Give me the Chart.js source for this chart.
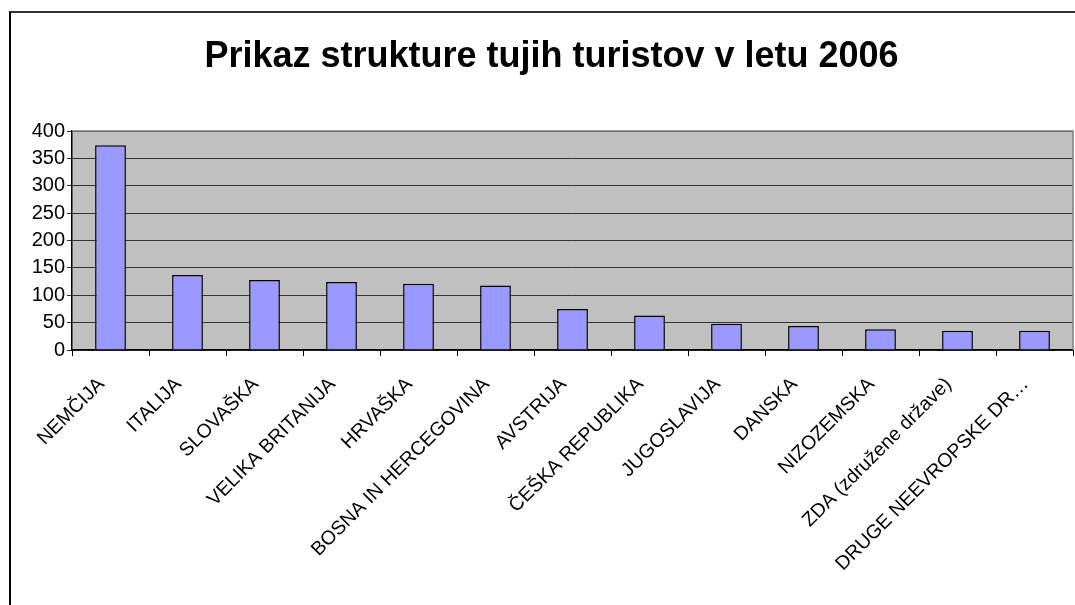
<!DOCTYPE html>
<html>
<head>
<meta charset="utf-8">
<script src="https://cdn.jsdelivr.net/npm/chart.js@4"></script>
<style>
  body { margin: 0; background: #fff; overflow: hidden; }
  #frame { position: absolute; left: 9px; top: 11px; width: 1200px; height: 700px; border-left: 2px solid #000; border-top: 2px solid #333; }
  #chart { position: absolute; left: 0; top: 0; }
</style>
</head>
<body>
<div id="frame"></div>
<canvas id="chart" width="1075" height="605"></canvas>
<script>
// podatki
const drzave = ['NEMČIJA', 'ITALIJA', 'SLOVAŠKA', 'VELIKA BRITANIJA', 'HRVAŠKA', 'BOSNA IN HERCEGOVINA',
    'AVSTRIJA', 'ČEŠKA REPUBLIKA', 'JUGOSLAVIJA', 'DANSKA', 'NIZOZEMSKA', 'ZDA (združene države)', 'DRUGE NEEVROPSKE DR…'];
const turisti = [374, 137, 128, 124, 121, 118, 75, 63, 48, 44, 38, 35, 35];
const yTicks = [0, 50, 100, 150, 200, 250, 300, 350, 400];

// ozadje risalne ploskve
const plotBg = {
    id: 'plotBg',
    beforeDraw(chart) {
        const a = chart.chartArea, ctx = chart.ctx;
        ctx.save();
        ctx.fillStyle = '#C0C0C0';
        ctx.fillRect(a.left, a.top, a.right - a.left, a.bottom - a.top);
        ctx.restore();
    },
    afterDraw(chart) {
        const a = chart.chartArea, ctx = chart.ctx;
        ctx.save();
        ctx.strokeStyle = '#808080';
        ctx.lineWidth = 1.5;
        ctx.beginPath();
        ctx.moveTo(a.left, a.top);
        ctx.lineTo(a.right, a.top);
        ctx.lineTo(a.right, a.bottom);
        ctx.stroke();
        ctx.restore();
    }
};

const ctx = document.getElementById('chart').getContext('2d');
new Chart(ctx, {
    type: 'bar',
    data: {
        labels: drzave,
        datasets: [{
            data: turisti,
            backgroundColor: '#9999FF',
            borderColor: '#000',
            borderWidth: 1.5,
            categoryPercentage: 1,
            barPercentage: 0.4
        }]
    },
    options: {
        responsive: false,
        devicePixelRatio: 1,
        animation: false,
        layout: { padding: { left: 30, right: 2, top: 0, bottom: 0 } },
        plugins: {
            legend: { display: false },
            tooltip: { enabled: false },
            title: {
                display: true,
                text: 'Prikaz strukture tujih turistov v letu 2006',
                color: '#000',
                font: { family: 'Liberation Sans', size: 36, weight: 'bold', lineHeight: 1.2 },
                padding: { top: 35, bottom: 52.8 }
            }
        },
        scales: {
            x: {
                grid: { offset: true, drawOnChartArea: false, color: '#000', tickLength: 6 },
                border: { color: '#000', width: 1.5 },
                ticks: {
                    color: '#000',
                    font: { family: 'Liberation Sans', size: 19.5 },
                    minRotation: 45, maxRotation: 45,
                    autoSkip: false,
                    labelOffset: -9,
                    padding: 17
                },
                afterFit(scale) { scale.height = 255; }
            },
            y: {
                min: 0, max: 400,
                afterBuildTicks(scale) { scale.ticks = yTicks.map(v => ({ value: v })); },
                grid: { color: '#333', tickLength: 5, lineWidth: 1 },
                border: { color: '#000', width: 1.5 },
                ticks: {
                    color: '#000',
                    font: { family: 'Liberation Sans', size: 20 },
                    padding: 2
                },
                afterFit(scale) { scale.width = 42; }
            }
        }
    },
    plugins: [plotBg]
});
</script>
</body>
</html>
